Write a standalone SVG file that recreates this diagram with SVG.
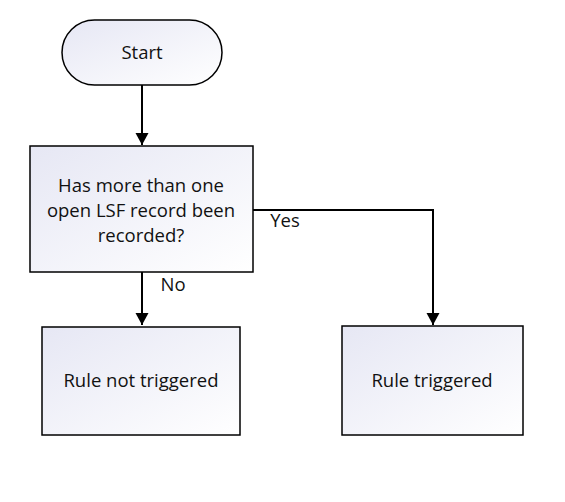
<svg xmlns="http://www.w3.org/2000/svg" width="565" height="502" viewBox="0 0 565 502">
<defs>
<linearGradient id="g" x1="0" y1="0" x2="1" y2="1">
<stop offset="0" stop-color="#e6e7f4"/>
<stop offset="1" stop-color="#ffffff"/>
</linearGradient>
<marker id="ah" markerWidth="14" markerHeight="14" refX="12" refY="6.5" orient="auto" markerUnits="userSpaceOnUse">
<path d="M0,0 L12,6.5 L0,13 Z" fill="#000"/>
</marker>
<style>
.n{fill:url(#g);stroke:#000;stroke-width:1.5}
.t{font-family:"Open Sans","Noto Sans",sans-serif;font-size:18.5px;fill:#111;text-anchor:middle}
.c{fill:none;stroke:#000;stroke-width:2;marker-end:url(#ah)}
</style>
</defs>
<rect width="565" height="502" fill="#fff"/>
<g id="connectors">
<path class="c" d="M142,85 V145"/>
<path class="c" d="M142,272 V325"/>
<path class="c" d="M253,210 H433 V325"/>
<text class="t" x="285" y="227">Yes</text>
<text class="t" x="173" y="291">No</text>
</g>
<g id="start">
<rect class="n" x="62" y="20" width="160" height="65" rx="32.5"/>
<text class="t" x="142" y="59">Start</text>
</g>
<g id="decision">
<rect class="n" x="30" y="146" width="223" height="126"/>
<text class="t" x="141" y="192">Has more than one</text>
<text class="t" x="141" y="217">open LSF record been</text>
<text class="t" x="141" y="242">recorded?</text>
</g>
<g id="not-triggered">
<rect class="n" x="42" y="327" width="198" height="108"/>
<text class="t" x="141" y="387">Rule not triggered</text>
</g>
<g id="triggered">
<rect class="n" x="342" y="326" width="181" height="109"/>
<text class="t" x="432" y="387">Rule triggered</text>
</g>
</svg>
